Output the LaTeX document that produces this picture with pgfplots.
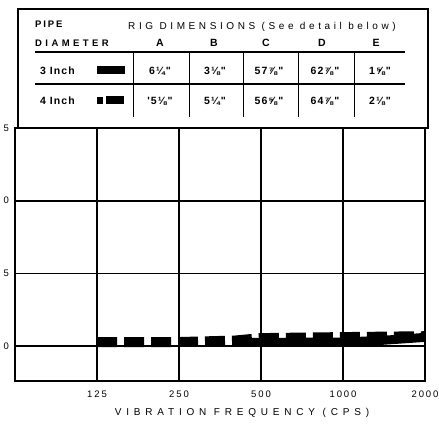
\documentclass[border=0pt]{standalone}
\usepackage{fontspec}
\setmainfont{Liberation Sans}
\newfontfamily\spacedx[LetterSpace=48]{Liberation Sans}
\newfontfamily\spacedf[LetterSpace=36]{Liberation Sans}
\newfontfamily\spacedt[LetterSpace=20]{Liberation Sans}
\newfontfamily\spacedb[LetterSpace=10]{Liberation Sans}
\usepackage{pgfplots}
\pgfplotsset{compat=1.18}
\begin{document}
\begin{tikzpicture}
\begin{axis}[
  at={(15pt,-381pt)}, anchor=south west,
  scale only axis, width=410pt, height=253pt,
  xmode=log, log basis x=2, xmin=62.5, xmax=2000, ymin=7.6, ymax=25,
  xtick={125,250,500,1000,2000}, xticklabels={125,250,500,1000,2000},
  ytick={10,15,20,25}, yticklabels={0,5,0,5},
  major tick length=0pt,
  xmajorgrids, ymajorgrids,
  x grid style={black, line width=1.1pt},
  y grid style={black, line width=1.6pt},
  axis line style={black, line width=1.4pt},
  tick label style={font=\fontsize{9.5}{10}\spacedt},
  xticklabel style={yshift=-6pt},
  yticklabel style={anchor=west, at={(0,0)}, xshift=-15pt},
  xlabel={\fontsize{10}{11}\spacedx VIBRATION FREQUENCY (CPS)},
  xlabel style={yshift=-4pt, xshift=22pt},
]
\addplot[black, line width=9pt, line cap=butt] coordinates {(400,10.25) (500,10.25) (1000,10.28) (1400,10.4) (2000,10.6)};
\addplot[black, line width=10pt, dash pattern=on 20pt off 7pt] coordinates {(125,10.28) (250,10.28) (400,10.38) (500,10.55) (1000,10.62) (2000,10.68)};
\addplot[black, line width=1.2pt] coordinates {(1000,10.05) (1414,10.2) (2000,10.38)};
\end{axis}
\begin{scope}[x=1pt,y=-1pt]
\draw[line width=1.4pt] (18,9) rectangle (428,128);
\draw[line width=1.3pt] (35,52) -- (405,52);
\draw[line width=1.3pt] (35,84) -- (405,84);
\foreach \x in {133,189,243,298,354} \draw[line width=1pt] (\x,52) -- (\x,117);
\node[anchor=base west, inner sep=0] at (35,27) {\fontsize{9.5}{10}\spacedt\bfseries PIPE};
\node[anchor=base west, inner sep=0] at (35,46) {\fontsize{9.5}{10}\spacedf\bfseries DIAMETER};
\node[anchor=base west, inner sep=0] at (128,29) {\fontsize{10}{11}\spacedf RIG DIMENSIONS (See detail below)};
\foreach \x/\t in {160/A,214/B,266/C,322/D,376/E}
  \node[anchor=base, inner sep=0] at (\x,46) {\fontsize{10.5}{11}\bfseries \t};
\node[anchor=base west, inner sep=0] at (40,74) {\fontsize{10.5}{11}\spacedb\bfseries 3 Inch};
\node[anchor=base west, inner sep=0] at (40,104) {\fontsize{10.5}{11}\spacedb\bfseries 4 Inch};
\fill[black] (97,66) rectangle (125,74);
\fill[black] (97,97) rectangle (103,104);
\fill[black] (106,96) rectangle (124,104);
\foreach \x/\t in {160/6¼",215/3⅛",269/57⅞",325/62⅞",380/1⅝"}
  \node[anchor=base, inner sep=0] at (\x,74) {\fontsize{10.5}{11}\spacedb\bfseries \t};
\foreach \x/\t in {160/'5⅛",215/5¼",269/56⅝",325/64⅞",380/2⅛"}
  \node[anchor=base, inner sep=0] at (\x,104) {\fontsize{10.5}{11}\spacedb\bfseries \t};
\end{scope}
\pgfresetboundingbox
\path[use as bounding box] (0pt,0pt) rectangle (439pt,-434pt);
\end{tikzpicture}
\end{document}
